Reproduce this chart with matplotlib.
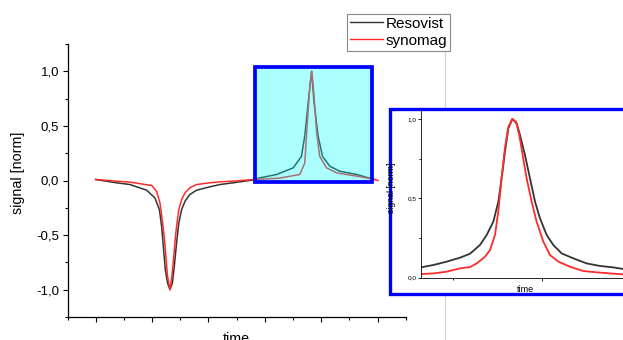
import matplotlib
matplotlib.use("Agg")
import matplotlib.pyplot as plt
from matplotlib.lines import Line2D
from matplotlib.patches import Rectangle
from matplotlib.ticker import FixedLocator, FuncFormatter, NullFormatter

plt.rcParams["font.family"] = ["Liberation Sans", "DejaVu Sans"]

# main plot: time in tick units, signal normalised
res_x = [1.0, 1.74, 2.22, 2.81, 3.10, 3.26, 3.34, 3.40, 3.47, 3.55, 3.635,
         3.72, 3.79, 3.87, 3.95, 4.05, 4.17, 4.34, 4.58, 5.05, 5.41, 5.88,
         6.59, 6.71, 7.42, 8.01, 8.30, 8.42, 8.54, 8.66, 8.75, 8.89, 9.05,
         9.31, 9.66, 10.26, 10.67, 10.9]
res_y = [0.009, -0.021, -0.037, -0.089, -0.159, -0.266, -0.419, -0.602, -0.816, -0.939, -1.0,
         -0.939, -0.786, -0.572, -0.388, -0.266, -0.19, -0.128, -0.089, -0.058, -0.037, -0.021,
         0.005, 0.018, 0.055, 0.116, 0.22, 0.41, 0.71, 1.0, 0.71, 0.41, 0.22,
         0.13, 0.085, 0.055, 0.025, 0.01]

syn_x = [1.0, 1.74, 2.22, 2.99, 3.16, 3.28, 3.36, 3.43, 3.49, 3.55, 3.635,
         3.69, 3.75, 3.81, 3.87, 3.95, 4.05, 4.17, 4.34, 4.58, 5.05, 5.41, 5.88,
         6.59, 7.51, 8.24, 8.42, 8.50, 8.60, 8.67, 8.74, 8.84, 8.95, 9.19,
         9.55, 10.26, 10.73, 11.02]
syn_y = [0.009, -0.006, -0.015, -0.046, -0.098, -0.205, -0.358, -0.51, -0.694, -0.878, -1.0,
         -0.908, -0.755, -0.572, -0.419, -0.266, -0.174, -0.113, -0.067, -0.037, -0.021, -0.012, -0.006,
         0.009, 0.021, 0.055, 0.16, 0.5, 0.865, 1.0, 0.80, 0.44, 0.22, 0.116,
         0.07, 0.04, 0.018, 0.0]

# zoomed peak (inset)
ins_res_x = [0.631, 0.775, 0.925, 1.076, 1.189, 1.302, 1.378, 1.453, 1.510, 1.547, 1.585,
             1.623, 1.668, 1.717, 1.755, 1.811, 1.868, 1.925, 1.981, 2.057, 2.132, 2.226,
             2.358, 2.509, 2.660, 2.811, 2.920, 3.1, 3.3, 3.6]
ins_res_y = [0.065, 0.080, 0.101, 0.126, 0.151, 0.206, 0.269, 0.353, 0.479, 0.626, 0.794,
             0.941, 1.0, 0.973, 0.899, 0.773, 0.626, 0.479, 0.374, 0.269, 0.206, 0.153,
             0.122, 0.090, 0.074, 0.065, 0.055, 0.05, 0.045, 0.04]
ins_syn_x = [0.631, 0.775, 0.925, 1.076, 1.189, 1.265, 1.359, 1.416, 1.472, 1.510, 1.547,
             1.585, 1.623, 1.668, 1.710, 1.747, 1.785, 1.830, 1.887, 1.943, 2.019, 2.094,
             2.189, 2.321, 2.472, 2.660, 2.920, 3.2, 3.6]
ins_syn_y = [0.023, 0.027, 0.038, 0.059, 0.067, 0.090, 0.132, 0.174, 0.269, 0.42, 0.63,
             0.82, 0.95, 1.0, 0.983, 0.899, 0.773, 0.626, 0.479, 0.353, 0.227, 0.143,
             0.101, 0.069, 0.042, 0.032, 0.021, 0.018, 0.015]

C_RES = "#333333"
C_SYN = "#ff2a2a"
BLUE = "#0000ff"
W, H = 623, 340

comma = FuncFormatter(lambda v, p: f"{v:.1f}".replace(".", ","))

fig = plt.figure(figsize=(W / 100, H / 100), dpi=100)

ax = fig.add_axes([67.5 / W, 1 - 317 / H, (405.7 - 67.5) / W, (317 - 44) / H])
ax.plot(res_x, res_y, color=C_RES, lw=1.1)
ax.plot(syn_x, syn_y, color=C_SYN, lw=1.1)
ax.add_patch(Rectangle((6.64, -0.012), 4.16, 1.049, facecolor=(0, 1, 1, 0.33),
                       edgecolor=BLUE, lw=2.7, zorder=3))
ax.set_xlim(0, 12)
ax.set_ylim(-1.25, 1.25)
ax.xaxis.set_major_locator(FixedLocator([1, 3, 5, 7, 9, 11]))
ax.xaxis.set_minor_locator(FixedLocator([0, 2, 4, 6, 8, 10, 12]))
ax.xaxis.set_major_formatter(NullFormatter())
ax.yaxis.set_major_locator(FixedLocator([-1, -0.5, 0, 0.5, 1]))
ax.yaxis.set_minor_locator(FixedLocator([-1.25, -0.75, -0.25, 0.25, 0.75, 1.25]))
ax.yaxis.set_major_formatter(comma)
for s in ["top", "right"]:
    ax.spines[s].set_visible(False)
for s in ["left", "bottom"]:
    ax.spines[s].set_linewidth(0.9)
ax.tick_params(which="major", direction="out", length=3.5, width=0.8, labelsize=9.5, pad=2.5)
ax.tick_params(which="minor", direction="out", length=2, width=0.8)
ax.set_ylabel("signal [norm]", fontsize=10.3)
ax.yaxis.set_label_coords(-0.126, 0.527)
ax.set_xlabel("time", fontsize=10.3, va="top")
ax.xaxis.set_label_coords(0.5, -0.056)

fig.add_artist(Line2D([445 / W, 445 / W], [0, 1 - 13 / H], color="#d0d0d0", lw=0.8, zorder=0.5))
fig.add_artist(Rectangle((389.5 / W, 1 - 294.3 / H), 0.5, (294.3 - 108.5) / H,
                         transform=fig.transFigure, facecolor="white", edgecolor=BLUE,
                         lw=2.4, zorder=1))

axin = fig.add_axes([421 / W, 1 - 277.7 / H, (680 - 421) / W, (277.7 - 109) / H])
axin.set_zorder(2)
axin.patch.set_alpha(0)
axin.plot(ins_res_x, ins_res_y, color=C_RES, lw=1.3)
axin.plot(ins_syn_x, ins_syn_y, color=C_SYN, lw=1.3)
axin.set_xlim(0.635, 3.565)
axin.set_ylim(0, 1.063)
axin.xaxis.set_major_locator(FixedLocator([2]))
axin.xaxis.set_minor_locator(FixedLocator([1, 3]))
axin.xaxis.set_major_formatter(NullFormatter())
axin.yaxis.set_major_locator(FixedLocator([0, 0.5, 1.0]))
axin.yaxis.set_minor_locator(FixedLocator([0.25, 0.75]))
axin.yaxis.set_major_formatter(comma)
for s in ["top", "right"]:
    axin.spines[s].set_visible(False)
for s in ["left", "bottom"]:
    axin.spines[s].set_linewidth(0.6)
axin.tick_params(which="major", direction="out", length=2.2, width=0.6, labelsize=4.6, pad=1.2)
axin.tick_params(which="minor", direction="out", length=1.4, width=0.6)
axin.set_ylabel("signal [norm]", fontsize=6.3)
axin.yaxis.set_label_coords(-0.0946, 0.532)
axin.set_xlabel("time", fontsize=6.5, va="top")
axin.xaxis.set_label_coords(0.404, -0.043)

handles = [Line2D([], [], color=C_RES, lw=1.0, label="Resovist"),
           Line2D([], [], color=C_SYN, lw=1.0, label="synomag")]
leg = fig.legend(handles=handles, loc="upper left", bbox_to_anchor=(347 / W, 1 - 14 / H),
                 bbox_transform=fig.transFigure, borderaxespad=0, fontsize=11,
                 fancybox=False, edgecolor="#888888", framealpha=1, borderpad=0.18,
                 handletextpad=0.15, labelspacing=0.2, handlelength=2.2)
leg.get_frame().set_linewidth(0.8)

fig.savefig("out.png", dpi=100)
